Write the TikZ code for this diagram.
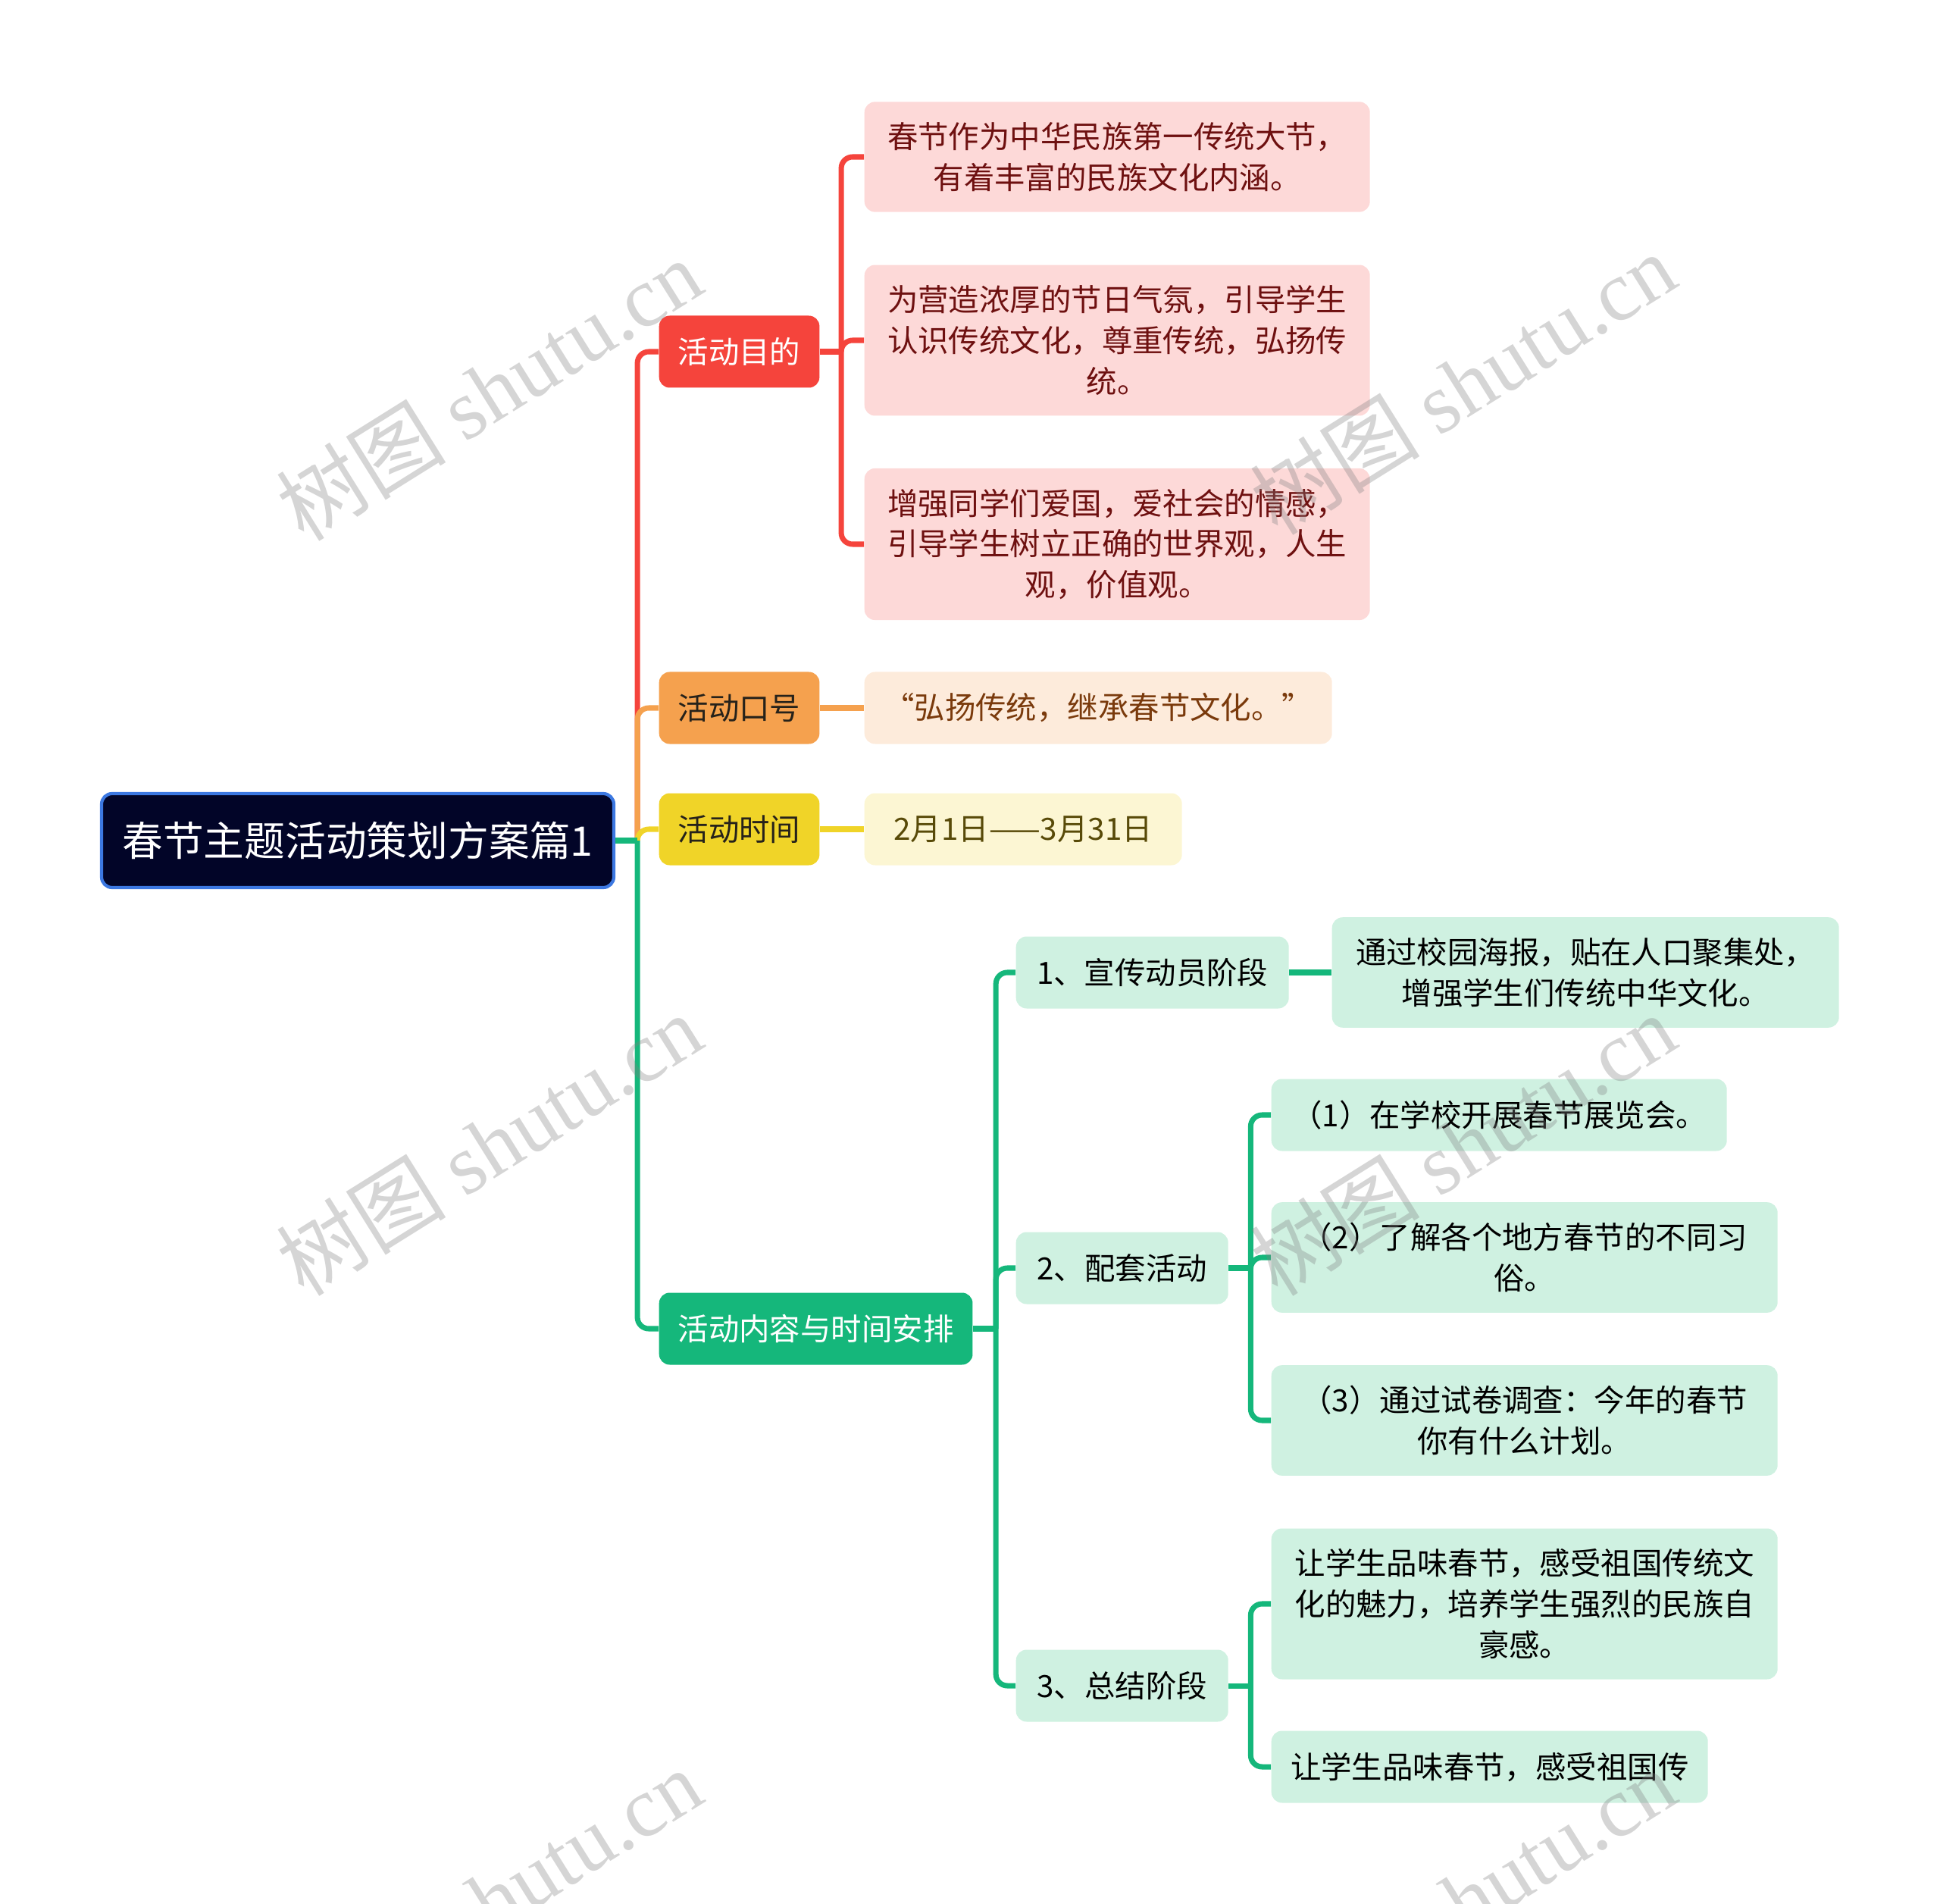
\documentclass[tikz,border=0pt]{standalone}
\usepackage{fontspec}
\setmainfont{Noto Sans CJK SC}
\newfontfamily\wmfont{Liberation Serif}
\usetikzlibrary{positioning}
\definecolor{rootfill}{RGB}{2,5,40}
\definecolor{rootline}{RGB}{60,120,225}
\definecolor{mred}{RGB}{245,68,60}
\definecolor{redleaf}{RGB}{253,217,216}
\definecolor{redtext}{RGB}{110,16,16}
\definecolor{morange}{RGB}{245,161,78}
\definecolor{orangeleaf}{RGB}{253,235,219}
\definecolor{orangetext}{RGB}{122,58,12}
\definecolor{myellow}{RGB}{240,212,40}
\definecolor{yellowleaf}{RGB}{252,246,211}
\definecolor{yellowtext}{RGB}{88,74,8}
\definecolor{mgreen}{RGB}{21,183,123}
\definecolor{greenleaf}{RGB}{207,241,225}
\definecolor{darktext}{RGB}{38,34,26}

\begin{document}
\begin{tikzpicture}[y=-1cm,
  rootbox/.style={draw=rootline,line width=1.2pt,fill=rootfill,text=white,rounded corners=0.14cm,
    minimum width=6.76cm,minimum height=1.24cm,inner xsep=0.1cm,font=\fontsize{15.3pt}{19pt}\selectfont},
  topic/.style={anchor=west,rounded corners=0.14cm,inner xsep=0.25cm,inner ysep=0.27cm,
    minimum height=0.95cm,font=\fontsize{11.5pt}{15.3pt}\selectfont},
  leaf/.style={anchor=west,rounded corners=0.14cm,inner ysep=0.27cm,align=center,
    minimum height=0.95cm,font=\fontsize{11.5pt}{15.3pt}\selectfont},
  sub/.style={topic,fill=greenleaf,text=black},
  gleaf/.style={leaf,fill=greenleaf,text=black},
  link/.style={line width=2pt},
  elbow/.style={line width=2pt,rounded corners=0.15cm},
  wmark/.style={rotate=32,text=black!50,text opacity=0.33,font=\fontsize{32pt}{38pt}\selectfont}]
\useasboundingbox (0,0) rectangle (25.6,25.12);

% root
\node[rootbox] (root) at (4.72,11.09) {春节主题活动策划方案篇1};

% first level
\node[topic,fill=mred,text=white] (aim) at (8.69,4.64) {活动目的};
\node[topic,fill=morange,text=darktext] (slogan) at (8.69,9.34) {活动口号};
\node[topic,fill=myellow,text=darktext] (time) at (8.69,10.94) {活动时间};
\node[topic,fill=mgreen,text=white] (plan) at (8.69,17.53) {活动内容与时间安排};

% aim
\node[leaf,fill=redleaf,text=redtext,minimum width=6.67cm] (aimA) at (11.40,2.07) {春节作为中华民族第一传统大节，\\有着丰富的民族文化内涵。};
\node[leaf,fill=redleaf,text=redtext,minimum width=6.67cm] (aimB) at (11.40,4.49) {为营造浓厚的节日气氛，引导学生\\认识传统文化，尊重传统，弘扬传\\统。};
\node[leaf,fill=redleaf,text=redtext,minimum width=6.67cm] (aimC) at (11.40,7.18) {增强同学们爱国，爱社会的情感，\\引导学生树立正确的世界观，人生\\观，价值观。};

% slogan, time
\node[leaf,fill=orangeleaf,text=orangetext,minimum width=6.17cm] (sloganA) at (11.40,9.34) {“弘扬传统，继承春节文化。”};
\node[leaf,fill=yellowleaf,text=yellowtext,minimum width=4.19cm] (timeA) at (11.40,10.94) {2月1日——3月31日};

% plan
\node[sub,minimum width=3.60cm] (promo) at (13.40,12.83) {1、宣传动员阶段};
\node[sub,minimum width=2.80cm] (extra) at (13.40,16.73) {2、配套活动};
\node[sub,minimum width=2.80cm] (summ) at (13.40,22.24) {3、总结阶段};

\node[gleaf,minimum width=6.69cm] (promoA) at (17.57,12.83) {通过校园海报，贴在人口聚集处，\\增强学生们传统中华文化。};
\node[gleaf,minimum width=6.01cm] (extraA) at (16.77,14.71) {（1）在学校开展春节展览会。};
\node[gleaf,minimum width=6.68cm] (extraB) at (16.77,16.59) {（2）了解各个地方春节的不同习\\俗。};
\node[gleaf,minimum width=6.68cm] (extraC) at (16.77,18.74) {（3）通过试卷调查：今年的春节\\你有什么计划。};
\node[gleaf,minimum width=6.68cm] (summA) at (16.77,21.16) {让学生品味春节，感受祖国传统文\\化的魅力，培养学生强烈的民族自\\豪感。};
\node[gleaf,minimum width=5.76cm] (summB) at (16.77,23.31) {让学生品味春节，感受祖国传};

% branch points
\coordinate (rj) at ([xshift=0.29cm]root.east);
\coordinate (aj) at ([xshift=0.28cm]aim.east);
\coordinate (pj) at ([xshift=0.30cm]plan.east);
\coordinate (ej) at ([xshift=0.29cm]extra.east);
\coordinate (sj) at ([xshift=0.29cm]summ.east);

% links
\draw[link,mred] (root.east) -- (rj);
\draw[elbow,mred] (rj) |- (aim.west);
\draw[elbow,morange] (rj) |- (slogan.west);
\draw[elbow,myellow] (rj) |- (time.west);
\draw[link,mgreen] (root.east) -- (rj);
\draw[elbow,mgreen] (rj) |- (plan.west);

\draw[link,mred] (aim.east) -- (aj);
\draw[elbow,mred] (aj) |- (aimA.west);
\draw[elbow,mred] (aj) |- (aimB.west);
\draw[elbow,mred] (aj) |- (aimC.west);
\draw[link,morange] (slogan) -- (sloganA);
\draw[link,myellow] (time) -- (timeA);

\draw[link,mgreen] (plan.east) -- (pj);
\draw[elbow,mgreen] (pj) |- (promo.west);
\draw[elbow,mgreen] (pj) |- (extra.west);
\draw[elbow,mgreen] (pj) |- (summ.west);
\draw[link,mgreen] (promo) -- (promoA);

\draw[link,mgreen] (extra.east) -- (ej);
\draw[elbow,mgreen] (ej) |- (extraA.west);
\draw[elbow,mgreen] (ej) |- (extraB.west);
\draw[elbow,mgreen] (ej) |- (extraC.west);
\draw[link,mgreen] (summ.east) -- (sj);
\draw[elbow,mgreen] (sj) |- (summA.west);
\draw[elbow,mgreen] (sj) |- (summB.west);

% watermark
\node[wmark] (wmA) at (6.45,5.14) {树图 {\wmfont shutu.cn}};
\node[wmark] (wmB) at (19.30,5.06) {树图 {\wmfont shutu.cn}};
\node[wmark] (wmC) at (6.45,15.10) {树图 {\wmfont shutu.cn}};
\node[wmark] (wmD) at (19.30,15.10) {树图 {\wmfont shutu.cn}};
\node[wmark] (wmE) at (6.45,25.06) {树图 {\wmfont shutu.cn}};
\node[wmark] (wmF) at (19.30,25.06) {树图 {\wmfont shutu.cn}};
\end{tikzpicture}
\end{document}
